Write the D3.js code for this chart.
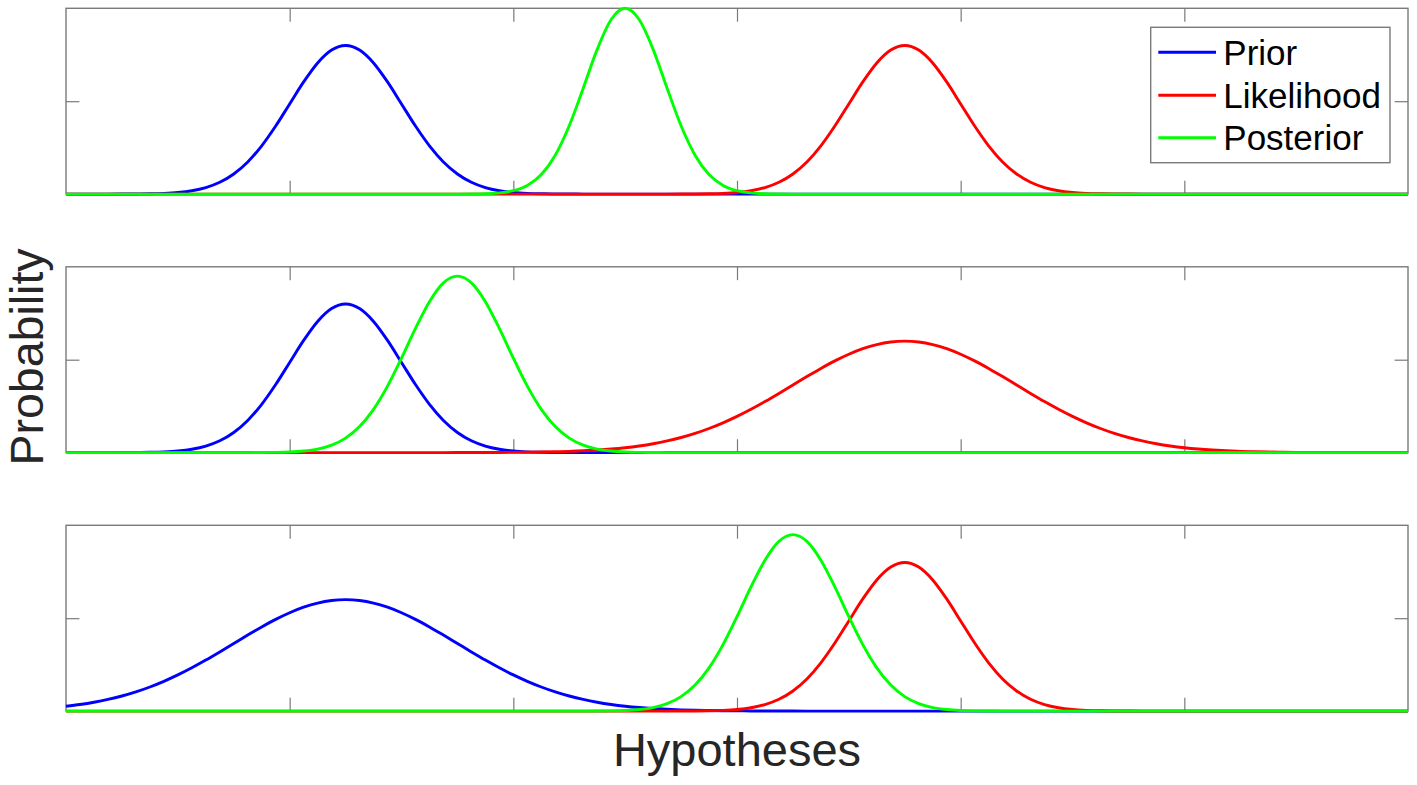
<!DOCTYPE html>
<html>
<head>
<meta charset="utf-8">
<script src="https://cdn.jsdelivr.net/npm/d3@7"></script>
<style>
  html, body { margin: 0; padding: 0; background: #ffffff; }
  svg { display: block; }
</style>
</head>
<body>
<svg id="chart" width="1417" height="785"></svg>
<script>
// ---------------- DATA ----------------
// Hypothesis grid (x values) shared by every curve
const hypotheses = [
  0, 0.0625, 0.125, 0.1875, 0.25, 0.3125, 0.375, 0.4375, 0.5, 0.5625, 0.625, 0.6875, 0.75, 0.8125, 0.875, 0.9375,
  1, 1.0625, 1.125, 1.1875, 1.25, 1.3125, 1.375, 1.4375, 1.5, 1.5625, 1.625, 1.6875, 1.75, 1.8125, 1.875, 1.9375,
  2, 2.0625, 2.125, 2.1875, 2.25, 2.3125, 2.375, 2.4375, 2.5, 2.5625, 2.625, 2.6875, 2.75, 2.8125, 2.875, 2.9375,
  3, 3.0625, 3.125, 3.1875, 3.25, 3.3125, 3.375, 3.4375, 3.5, 3.5625, 3.625, 3.6875, 3.75, 3.8125, 3.875, 3.9375,
  4, 4.0625, 4.125, 4.1875, 4.25, 4.3125, 4.375, 4.4375, 4.5, 4.5625, 4.625, 4.6875, 4.75, 4.8125, 4.875, 4.9375,
  5, 5.0625, 5.125, 5.1875, 5.25, 5.3125, 5.375, 5.4375, 5.5, 5.5625, 5.625, 5.6875, 5.75, 5.8125, 5.875, 5.9375,
  6
];

// Top panel
const priorTop = [
  0, 0, 0, 0.0001, 0.0003, 0.0007, 0.0018, 0.0041, 0.0089, 0.0182, 0.0351, 0.0637, 0.1083, 0.1730, 0.2598, 0.3662,
  0.4852, 0.6038, 0.7060, 0.7754, 0.8000, 0.7754, 0.7060, 0.6038, 0.4852, 0.3662, 0.2598, 0.1730, 0.1083, 0.0637, 0.0351, 0.0182,
  0.0089, 0.0041, 0.0018, 0.0007, 0.0003, 0.0001, 0, 0, 0, 0, 0, 0, 0, 0, 0, 0,
  0, 0, 0, 0, 0, 0, 0, 0, 0, 0, 0, 0, 0, 0, 0, 0,
  0, 0, 0, 0, 0, 0, 0, 0, 0, 0, 0, 0, 0, 0, 0, 0,
  0, 0, 0, 0, 0, 0, 0, 0, 0, 0, 0, 0, 0, 0, 0, 0,
  0
];
const likelihoodTop = [
  0, 0, 0, 0, 0, 0, 0, 0, 0, 0, 0, 0, 0, 0, 0, 0,
  0, 0, 0, 0, 0, 0, 0, 0, 0, 0, 0, 0, 0, 0, 0, 0,
  0, 0, 0, 0, 0, 0, 0, 0, 0, 0, 0, 0.0001, 0.0003, 0.0007, 0.0018, 0.0041,
  0.0089, 0.0182, 0.0351, 0.0637, 0.1083, 0.1730, 0.2598, 0.3662, 0.4852, 0.6038, 0.7060, 0.7754, 0.8000, 0.7754, 0.7060, 0.6038,
  0.4852, 0.3662, 0.2598, 0.1730, 0.1083, 0.0637, 0.0351, 0.0182, 0.0089, 0.0041, 0.0018, 0.0007, 0.0003, 0.0001, 0, 0,
  0, 0, 0, 0, 0, 0, 0, 0, 0, 0, 0, 0, 0, 0, 0, 0,
  0
];
const posteriorTop = [
  0, 0, 0, 0, 0, 0, 0, 0, 0, 0, 0, 0, 0, 0, 0, 0,
  0, 0, 0, 0, 0, 0, 0, 0, 0, 0, 0, 0, 0.0001, 0.0005, 0.0019, 0.0063,
  0.0183, 0.0468, 0.1054, 0.2096, 0.3679, 0.5698, 0.7788, 0.9394, 1.0000, 0.9394, 0.7788, 0.5698, 0.3679, 0.2096, 0.1054, 0.0468,
  0.0183, 0.0063, 0.0019, 0.0005, 0.0001, 0, 0, 0, 0, 0, 0, 0, 0, 0, 0, 0,
  0, 0, 0, 0, 0, 0, 0, 0, 0, 0, 0, 0, 0, 0, 0, 0,
  0, 0, 0, 0, 0, 0, 0, 0, 0, 0, 0, 0, 0, 0, 0, 0,
  0
];

// Middle panel
const priorMid = priorTop.slice();
const likelihoodMid = [
  0, 0, 0, 0, 0, 0, 0, 0, 0, 0, 0, 0, 0, 0, 0, 0,
  0, 0, 0, 0, 0, 0, 0, 0, 0, 0, 0, 0.0001, 0.0002, 0.0003, 0.0005, 0.0008,
  0.0013, 0.0020, 0.0030, 0.0045, 0.0067, 0.0096, 0.0137, 0.0191, 0.0263, 0.0358, 0.0478, 0.0628, 0.0812, 0.1034, 0.1298, 0.1603,
  0.1948, 0.2331, 0.2747, 0.3187, 0.3639, 0.4091, 0.4529, 0.4936, 0.5295, 0.5593, 0.5815, 0.5953, 0.6000, 0.5953, 0.5815, 0.5593,
  0.5295, 0.4936, 0.4529, 0.4091, 0.3639, 0.3187, 0.2747, 0.2331, 0.1948, 0.1603, 0.1298, 0.1034, 0.0812, 0.0628, 0.0478, 0.0358,
  0.0263, 0.0191, 0.0137, 0.0096, 0.0067, 0.0045, 0.0030, 0.0020, 0.0013, 0.0008, 0.0005, 0.0003, 0.0002, 0.0001, 0, 0,
  0
];
const posteriorMid = [
  0, 0, 0, 0, 0, 0, 0, 0, 0, 0, 0, 0, 0, 0.0001, 0.0004, 0.0013,
  0.0034, 0.0084, 0.0191, 0.0402, 0.0780, 0.1401, 0.2328, 0.3578, 0.5085, 0.6684, 0.8125, 0.9136, 0.9500, 0.9136, 0.8125, 0.6684,
  0.5085, 0.3578, 0.2328, 0.1401, 0.0780, 0.0402, 0.0191, 0.0084, 0.0034, 0.0013, 0.0004, 0.0001, 0, 0, 0, 0,
  0, 0, 0, 0, 0, 0, 0, 0, 0, 0, 0, 0, 0, 0, 0, 0,
  0, 0, 0, 0, 0, 0, 0, 0, 0, 0, 0, 0, 0, 0, 0, 0,
  0, 0, 0, 0, 0, 0, 0, 0, 0, 0, 0, 0, 0, 0, 0, 0,
  0
];

// Bottom panel
const priorBottom = [
  0.0263, 0.0358, 0.0478, 0.0628, 0.0812, 0.1034, 0.1298, 0.1603, 0.1948, 0.2331, 0.2747, 0.3187, 0.3639, 0.4091, 0.4529, 0.4936,
  0.5295, 0.5593, 0.5815, 0.5953, 0.6000, 0.5953, 0.5815, 0.5593, 0.5295, 0.4936, 0.4529, 0.4091, 0.3639, 0.3187, 0.2747, 0.2331,
  0.1948, 0.1603, 0.1298, 0.1034, 0.0812, 0.0628, 0.0478, 0.0358, 0.0263, 0.0191, 0.0137, 0.0096, 0.0067, 0.0045, 0.0030, 0.0020,
  0.0013, 0.0008, 0.0005, 0.0003, 0.0002, 0.0001, 0, 0, 0, 0, 0, 0, 0, 0, 0, 0,
  0, 0, 0, 0, 0, 0, 0, 0, 0, 0, 0, 0, 0, 0, 0, 0,
  0, 0, 0, 0, 0, 0, 0, 0, 0, 0, 0, 0, 0, 0, 0, 0,
  0
];
const likelihoodBottom = likelihoodTop.slice();
const posteriorBottom = [
  0, 0, 0, 0, 0, 0, 0, 0, 0, 0, 0, 0, 0, 0, 0, 0,
  0, 0, 0, 0, 0, 0, 0, 0, 0, 0, 0, 0, 0, 0, 0, 0,
  0, 0, 0, 0, 0, 0.0001, 0.0004, 0.0013, 0.0034, 0.0084, 0.0191, 0.0402, 0.0780, 0.1401, 0.2328, 0.3578,
  0.5085, 0.6684, 0.8125, 0.9136, 0.9500, 0.9136, 0.8125, 0.6684, 0.5085, 0.3578, 0.2328, 0.1401, 0.0780, 0.0402, 0.0191, 0.0084,
  0.0034, 0.0013, 0.0004, 0.0001, 0, 0, 0, 0, 0, 0, 0, 0, 0, 0, 0, 0,
  0, 0, 0, 0, 0, 0, 0, 0, 0, 0, 0, 0, 0, 0, 0, 0,
  0
];

const seriesNames = ["Prior", "Likelihood", "Posterior"];
const seriesColors = ["#0000ff", "#ff0000", "#00ff00"];
const xTickValues = [1, 2, 3, 4, 5];
const yTickValues = [0.5];
const xLabel = "Hypotheses";
const yLabel = "Probability";

const panelSeries = [
  [priorTop, likelihoodTop, posteriorTop],
  [priorMid, likelihoodMid, posteriorMid],
  [priorBottom, likelihoodBottom, posteriorBottom]
];

// ---------------- LAYOUT ----------------
const left = 66, right = 1408;
const panelTop0 = 8.3, panelStep = 258.5, panelH = 185.8;
const tickLen = 13.4;
const axisColor = "#7a7a7a";
const fontFamily = "'Liberation Sans', Arial, Helvetica, sans-serif";

const svg = d3.select("#chart");

const x = d3.scaleLinear().domain([0, 6]).range([left, right]);

panelSeries.forEach((series, p) => {
  const top = panelTop0 + p * panelStep;
  const y = d3.scaleLinear().domain([0, 1]).range([top + panelH, top]);
  const g = svg.append("g");

  // axes box
  g.append("rect")
    .attr("x", x(0)).attr("y", y(1))
    .attr("width", x(6) - x(0)).attr("height", y(0) - y(1))
    .attr("fill", "none").attr("stroke", axisColor).attr("stroke-width", 1.4);

  const styleAxis = sel => {
    sel.select(".domain").remove();
    sel.selectAll(".tick line").attr("stroke", axisColor).attr("stroke-width", 1.2);
    sel.selectAll(".tick text").remove();
  };

  g.append("g").attr("transform", `translate(0,${y(0)})`)
    .call(d3.axisBottom(x).tickValues(xTickValues).tickSizeInner(-tickLen).tickSizeOuter(0).tickFormat(""))
    .call(styleAxis);
  g.append("g").attr("transform", `translate(0,${y(1)})`)
    .call(d3.axisTop(x).tickValues(xTickValues).tickSizeInner(-tickLen).tickSizeOuter(0).tickFormat(""))
    .call(styleAxis);
  g.append("g").attr("transform", `translate(${x(0)},0)`)
    .call(d3.axisLeft(y).tickValues(yTickValues).tickSizeInner(-tickLen).tickSizeOuter(0).tickFormat(""))
    .call(styleAxis);
  g.append("g").attr("transform", `translate(${x(6)},0)`)
    .call(d3.axisRight(y).tickValues(yTickValues).tickSizeInner(-tickLen).tickSizeOuter(0).tickFormat(""))
    .call(styleAxis);

  const line = d3.line()
    .x((d, i) => x(hypotheses[i]))
    .y(d => y(d))
    .curve(d3.curveMonotoneX);

  series.forEach((vals, s) => {
    g.append("path")
      .datum(vals)
      .attr("d", line)
      .attr("fill", "none")
      .attr("stroke", seriesColors[s])
      .attr("stroke-width", 2.9)
      .attr("stroke-linejoin", "round")
      .attr("stroke-linecap", "butt");
  });
});

// ---------------- LEGEND (top panel) ----------------
const legend = svg.append("g");
legend.append("rect")
  .attr("x", 1150.7).attr("y", 27.3)
  .attr("width", 239.3).attr("height", 135.4)
  .attr("fill", "#ffffff").attr("stroke", axisColor).attr("stroke-width", 1.4);
const legendRowY = [52.3, 95.2, 137.8];
seriesNames.forEach((name, i) => {
  legend.append("line")
    .attr("x1", 1158.3).attr("x2", 1216)
    .attr("y1", legendRowY[i]).attr("y2", legendRowY[i])
    .attr("stroke", seriesColors[i]).attr("stroke-width", 2.9);
  legend.append("text")
    .attr("x", 1223.3).attr("y", legendRowY[i] + 12.3)
    .attr("font-family", fontFamily).attr("font-size", 35)
    .attr("fill", "#000000")
    .text(name);
});

// ---------------- AXIS LABELS ----------------
svg.append("text")
  .attr("x", (left + right) / 2).attr("y", 766)
  .attr("text-anchor", "middle")
  .attr("font-family", fontFamily).attr("font-size", 47)
  .attr("fill", "#262626")
  .text(xLabel);

svg.append("text")
  .attr("transform", `translate(43,357) rotate(-90)`)
  .attr("text-anchor", "middle")
  .attr("font-family", fontFamily).attr("font-size", 46.5)
  .attr("fill", "#262626")
  .text(yLabel);
</script>
</body>
</html>
